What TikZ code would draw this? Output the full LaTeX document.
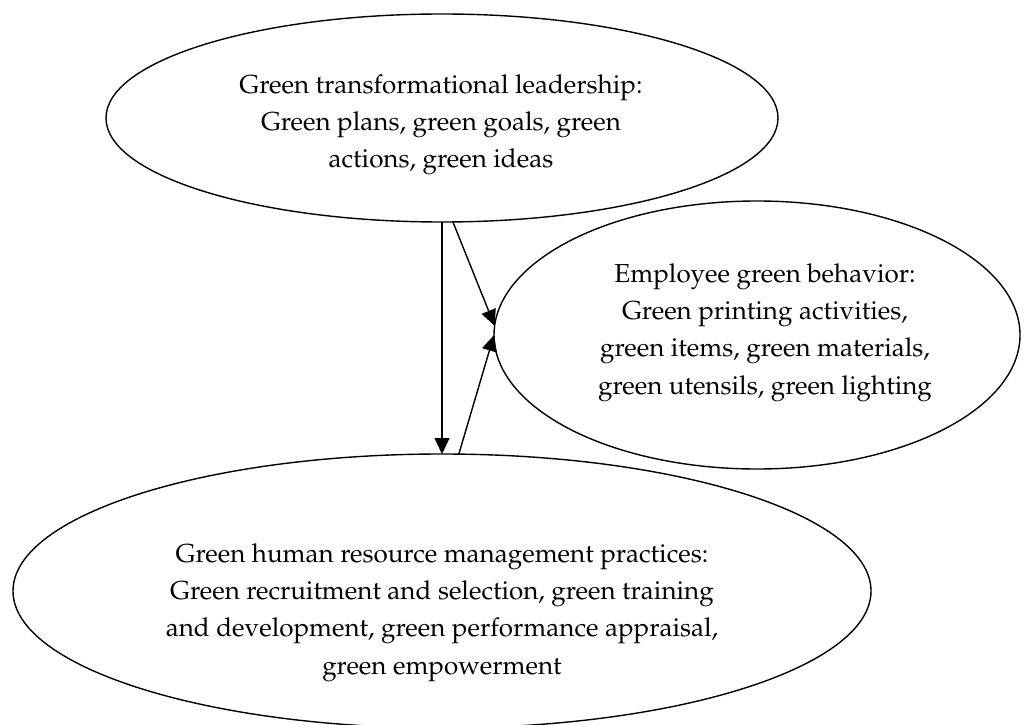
\documentclass[tikz,border=0pt]{standalone}
\usepackage[T1]{fontenc}
\renewcommand{\rmdefault}{ppl}
\usetikzlibrary{arrows.meta,shapes.geometric}
\tikzset{
  oval/.style={draw=black, line width=1.4pt, ellipse, inner sep=0pt, outer sep=0pt},
  lbl/.style={align=center, anchor=base, inner sep=0pt, font=\fontsize{26}{37.2}\selectfont},
  arr/.style={-{Triangle[length=16pt,width=15pt]}, line width=1.4pt, draw=black}
}
\begin{document}
\begin{tikzpicture}[x=1pt,y=1pt]
\useasboundingbox (0,0) rectangle (1024,724);
\fill[white] (0,0) rectangle (1024,724);
\node[oval, minimum width=672pt, minimum height=208pt] (top) at (442,606) {};
\node[oval, minimum width=526pt, minimum height=268pt] (rt) at (757,389) {};
\node[oval, minimum width=858pt, minimum height=274pt] (bot) at (442,133) {};
\node[lbl] (ttop) at (441,556) {Green transformational leadership:\\Green plans, green goals, green\\actions, green ideas};
\node[lbl] (trt) at (765,330) {Employee green behavior:\\Green printing activities,\\green items, green materials,\\green utensils, green lighting};
\node[lbl] (tbot) at (442,50) {Green human resource management practices:\\Green recruitment and selection, green training\\and development, green performance appraisal,\\green empowerment};
\draw[arr] (top.south) -- (bot.north);
\draw[arr] (top.-84) -- (rt.178.3);
\draw[arr] (bot.83.4) -- (rt.180.5);
\end{tikzpicture}
\end{document}
